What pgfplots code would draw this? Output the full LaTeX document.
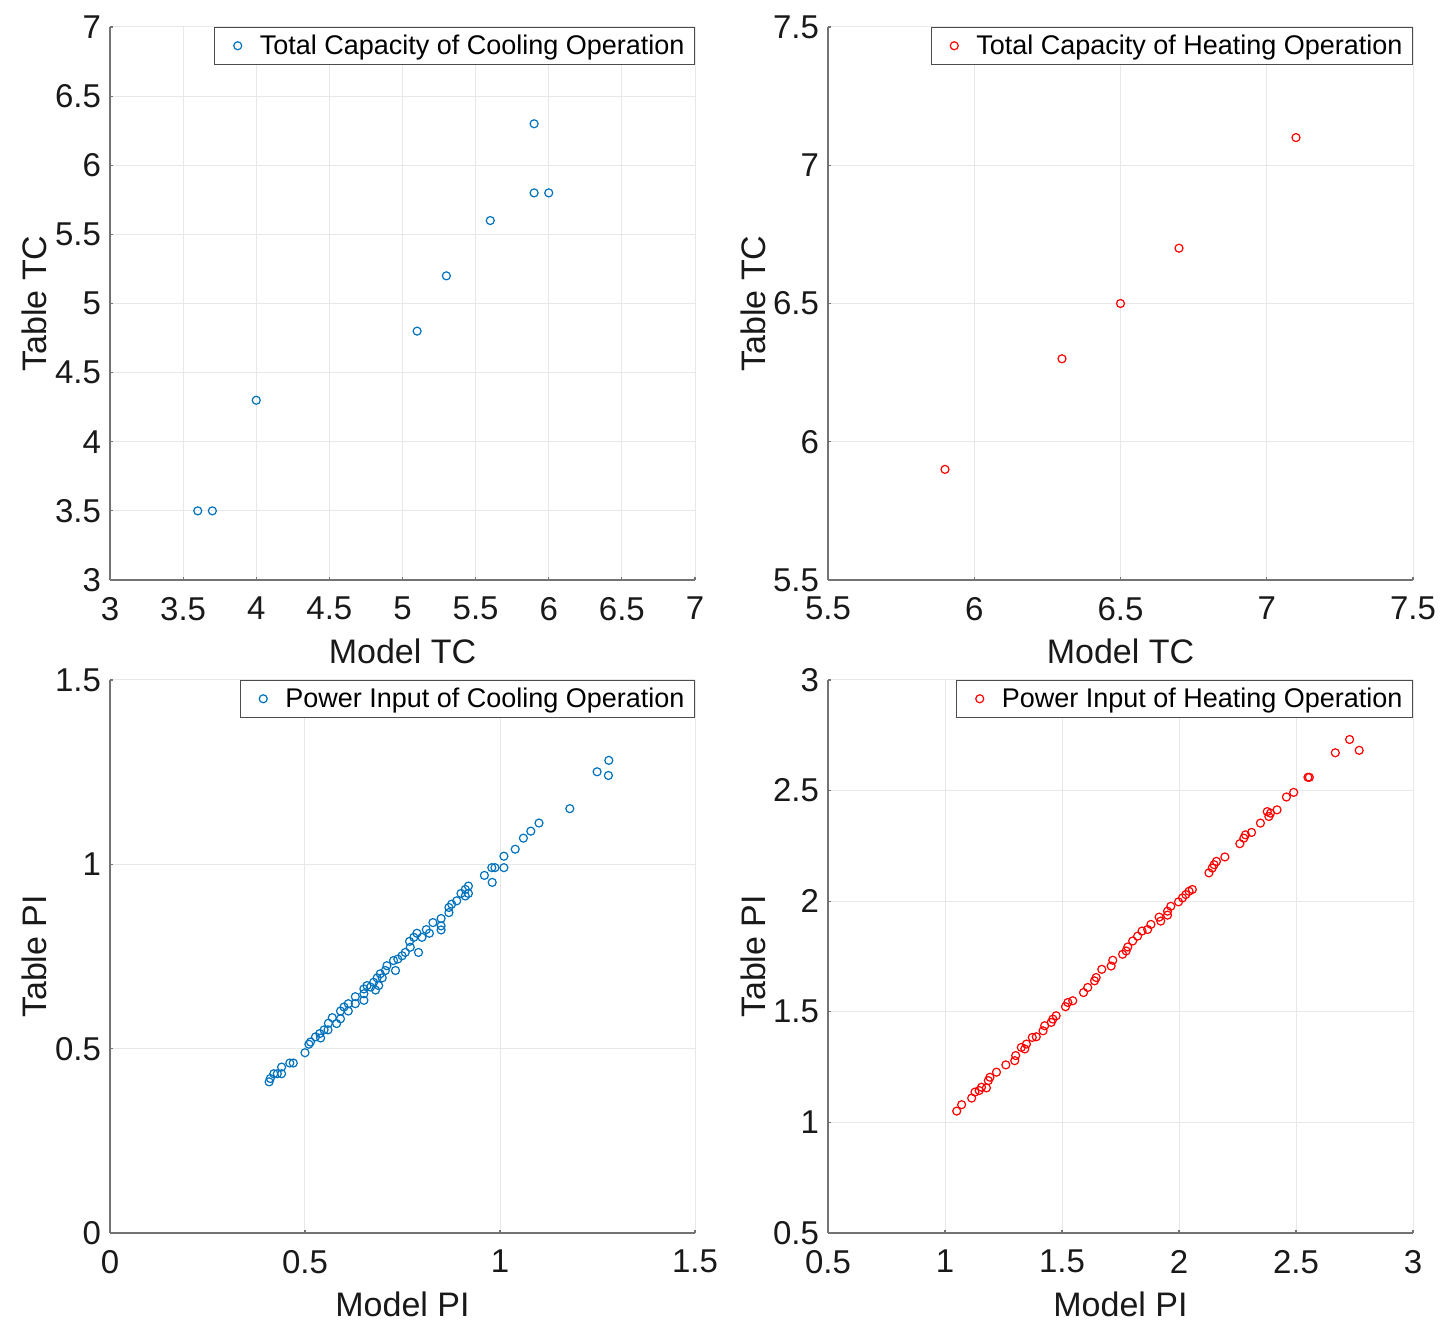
\documentclass[border=0pt]{standalone}
\usepackage{pgfplots}
\pgfplotsset{compat=1.18}
\usepackage{fontspec}
\setmainfont{Liberation Sans}
\definecolor{mblue}{rgb}{0,0.447,0.741}
\definecolor{axgray}{gray}{0.45}
\pgfplotsset{
  myax/.style={
    scale only axis, width=292.5pt, height=276.5pt,
    anchor=south west,
    axis x line*=bottom, axis y line*=left,
    axis line style={axgray, -, line width=0.6pt},
    tick style={axgray, line width=0.6pt},
    major tick length=1.5pt, tickpos=left,
    xtick align=inside, ytick align=inside,
    grid=major, grid style={gray!18, line width=0.5pt},
    tick label style={font=\fontsize{16.5}{17}\selectfont, text=black!90},
    xticklabel style={yshift=-5pt},
    yticklabel style={xshift=-1pt},
    label style={font=\fontsize{17}{18}\selectfont, text=black!90},
    /pgf/number format/assume math mode=true,
    xlabel style={yshift=-2.5pt},
    ylabel style={yshift=-3pt},
    legend style={at={(1,1)}, anchor=north east, font=\fontsize{13.5}{14}\selectfont,
      draw=black!70, line width=0.5pt, inner xsep=3pt, inner ysep=1.5pt, row sep=0pt,
      /tikz/every even column/.append style={column sep=0pt}},
    legend cell align=left,
    clip=false,
  },
  myscat/.style={only marks, mark=o, mark size=2pt, mark options={line width=0.6pt},
    legend image code/.code={\path[draw=none,fill=none] (0pt,0pt) -- (17.5pt,0pt);
      \draw[##1, /tikz/only marks] plot coordinates {(8.5pt,0pt)};}},
}
\begin{document}
\begin{tikzpicture}
\path[use as bounding box] (0,0) rectangle (726.5pt,669pt);
% top left
\begin{axis}[myax, at={(55pt,379pt)},
  xmin=3, xmax=7, ymin=3, ymax=7,
  xtick={3,3.5,...,7}, ytick={3,3.5,...,7},
  xticklabels={3,3.5,4,4.5,5,5.5,6,6.5,7},
  yticklabels={3,3.5,4,4.5,5,5.5,6,6.5,7},
  xlabel={Model TC}, ylabel={Table TC}]
\addplot[myscat, mblue] coordinates {
(3.6,3.5) (3.7,3.5) (4.0,4.3) (5.1,4.8) (5.3,5.2) (5.6,5.6) (5.9,5.8) (6.0,5.8) (5.9,6.3)};
\addlegendentry{Total Capacity of Cooling Operation}
\end{axis}
% top right
\begin{axis}[myax, at={(414pt,379pt)},
  xmin=5.5, xmax=7.5, ymin=5.5, ymax=7.5,
  xtick={5.5,6,6.5,7,7.5}, ytick={5.5,6,6.5,7,7.5},
  xticklabels={5.5,6,6.5,7,7.5},
  yticklabels={5.5,6,6.5,7,7.5},
  xlabel={Model TC}, ylabel={Table TC}]
\addplot[myscat, red] coordinates {
(5.9,5.9) (6.3,6.3) (6.5,6.5) (6.7,6.7) (7.1,7.1)};
\addlegendentry{Total Capacity of Heating Operation}
\end{axis}
% bottom left
\begin{axis}[myax, at={(55pt,52.5pt)},
  xmin=0, xmax=1.5, ymin=0, ymax=1.5,
  xtick={0,0.5,1,1.5}, ytick={0,0.5,1,1.5},
  xticklabels={0,0.5,1,1.5},
  yticklabels={0,0.5,1,1.5},
  xlabel={Model PI}, ylabel={Table PI}]
\addplot[myscat, mblue] coordinates {
(1.279,1.282) (1.249,1.251) (1.278,1.241) (1.179,1.151) (1.100,1.112)
(1.079,1.090) (1.060,1.071) (1.039,1.041) (1.010,1.022) (1.010,0.991)
(0.987,0.991) (0.979,0.991) (0.960,0.970) (0.980,0.951) (0.919,0.941)
(0.911,0.932) (0.919,0.921) (0.911,0.914) (0.900,0.921) (0.889,0.901)
(0.876,0.892) (0.869,0.883) (0.869,0.869) (0.849,0.853) (0.849,0.833)
(0.849,0.822) (0.828,0.842) (0.811,0.823) (0.819,0.813) (0.800,0.802)
(0.787,0.813) (0.779,0.802) (0.768,0.791) (0.770,0.775) (0.791,0.761)
(0.757,0.761) (0.749,0.752) (0.738,0.743) (0.727,0.739) (0.710,0.725)
(0.732,0.712) (0.706,0.712) (0.693,0.703) (0.698,0.692) (0.685,0.692)
(0.676,0.680) (0.689,0.671) (0.668,0.667) (0.659,0.671) (0.651,0.662)
(0.681,0.659) (0.651,0.649) (0.629,0.641) (0.651,0.631) (0.629,0.622)
(0.611,0.622) (0.600,0.613) (0.591,0.602) (0.611,0.602) (0.570,0.584)
(0.591,0.581) (0.560,0.569) (0.581,0.568) (0.549,0.551) (0.559,0.551)
(0.538,0.541) (0.527,0.532) (0.540,0.529) (0.514,0.518) (0.510,0.512)
(0.500,0.489) (0.470,0.461) (0.461,0.461) (0.440,0.450) (0.440,0.432)
(0.429,0.432) (0.420,0.432) (0.411,0.419) (0.408,0.410)};
\addlegendentry{Power Input of Cooling Operation}
\end{axis}
% bottom right
\begin{axis}[myax, at={(414pt,52.5pt)},
  xmin=0.5, xmax=3, ymin=0.5, ymax=3,
  xtick={0.5,1,...,3}, ytick={0.5,1,...,3},
  xticklabels={0.5,1,1.5,2,2.5,3},
  yticklabels={0.5,1,1.5,2,2.5,3},
  xlabel={Model PI}, ylabel={Table PI}]
\addplot[myscat, red] coordinates {
(2.729,2.731) (2.668,2.671) (2.770,2.682) (2.551,2.560) (2.557,2.560)
(2.490,2.492) (2.459,2.471) (2.419,2.413) (2.391,2.398) (2.384,2.383)
(2.377,2.405) (2.348,2.353) (2.310,2.311) (2.284,2.300) (2.277,2.285)
(2.260,2.260) (2.196,2.200) (2.160,2.180) (2.150,2.165) (2.142,2.150)
(2.128,2.128) (2.057,2.053) (2.043,2.045) (2.029,2.030) (2.015,2.015)
(1.998,1.997) (1.965,1.977) (1.951,1.955) (1.951,1.937) (1.915,1.928)
(1.922,1.910) (1.880,1.895) (1.866,1.872) (1.842,1.865) (1.823,1.842)
(1.802,1.820) (1.781,1.793) (1.774,1.775) (1.759,1.760) (1.717,1.733)
(1.710,1.707) (1.670,1.692) (1.646,1.655) (1.639,1.640) (1.610,1.610)
(1.592,1.587) (1.546,1.550) (1.525,1.542) (1.515,1.523) (1.475,1.482)
(1.461,1.467) (1.454,1.452) (1.426,1.437) (1.419,1.414) (1.390,1.387)
(1.373,1.384) (1.348,1.354) (1.341,1.332) (1.326,1.339) (1.302,1.302)
(1.298,1.279) (1.260,1.260) (1.220,1.227) (1.192,1.204) (1.185,1.189)
(1.177,1.156) (1.156,1.159) (1.146,1.144) (1.128,1.137) (1.114,1.110)
(1.071,1.080) (1.050,1.051)};
\addlegendentry{Power Input of Heating Operation}
\end{axis}
\end{tikzpicture}
\end{document}
